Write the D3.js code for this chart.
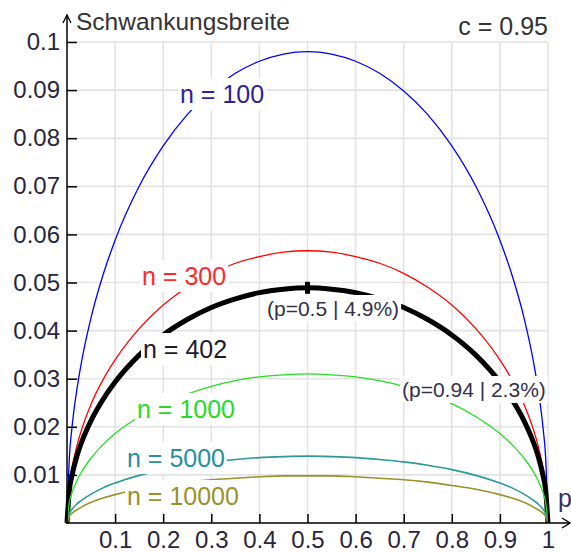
<!DOCTYPE html>
<html>
<head>
<meta charset="utf-8">
<script src="https://cdn.jsdelivr.net/npm/d3@7"></script>
<style>
  html, body { margin: 0; padding: 0; background: #fff; }
  svg { display: block; font-family: "Liberation Sans", Arial, sans-serif; }
</style>
</head>
<body>
<svg id="chart" width="571" height="555"></svg>
<script>
// ---- data ----
const pValues = [0,0.005,0.01,0.02,0.03,0.05,0.075,0.1,0.15,0.2,0.25,0.3,0.35,0.4,0.45,0.5,0.55,0.6,0.65,0.7,0.75,0.8,0.85,0.9,0.925,0.95,0.97,0.98,0.99,0.995,1];
const n100   = [0,0.0138,0.0195,0.0274,0.0334,0.0427,0.0516,0.0588,0.0700,0.0784,0.0849,0.0898,0.0935,0.0960,0.0975,0.0980,0.0975,0.0960,0.0935,0.0898,0.0849,0.0784,0.0700,0.0588,0.0516,0.0427,0.0334,0.0274,0.0195,0.0138,0];
const n300   = [0,0.0080,0.0113,0.0158,0.0193,0.0247,0.0298,0.0339,0.0404,0.0453,0.0490,0.0519,0.0540,0.0554,0.0563,0.0566,0.0563,0.0554,0.0540,0.0519,0.0490,0.0453,0.0404,0.0339,0.0298,0.0247,0.0193,0.0158,0.0113,0.0080,0];
const n402   = [0,0.0069,0.0097,0.0137,0.0167,0.0213,0.0257,0.0293,0.0349,0.0391,0.0423,0.0448,0.0466,0.0479,0.0486,0.0489,0.0486,0.0479,0.0466,0.0448,0.0423,0.0391,0.0349,0.0293,0.0257,0.0213,0.0167,0.0137,0.0097,0.0069,0];
const n1000  = [0,0.0044,0.0062,0.0087,0.0106,0.0135,0.0163,0.0186,0.0221,0.0248,0.0268,0.0284,0.0296,0.0304,0.0308,0.0310,0.0308,0.0304,0.0296,0.0284,0.0268,0.0248,0.0221,0.0186,0.0163,0.0135,0.0106,0.0087,0.0062,0.0044,0];
const n5000  = [0,0.0020,0.0028,0.0039,0.0047,0.0060,0.0073,0.0083,0.0099,0.0111,0.0120,0.0127,0.0132,0.0136,0.0138,0.0139,0.0138,0.0136,0.0132,0.0127,0.0120,0.0111,0.0099,0.0083,0.0073,0.0060,0.0047,0.0039,0.0028,0.0020,0];
const n10000 = [0,0.0014,0.0020,0.0027,0.0033,0.0043,0.0052,0.0059,0.0070,0.0078,0.0085,0.0090,0.0093,0.0096,0.0098,0.0098,0.0098,0.0096,0.0093,0.0090,0.0085,0.0078,0.0070,0.0059,0.0052,0.0043,0.0033,0.0027,0.0020,0.0014,0];

const seriesNames  = ["n = 100","n = 300","n = 402","n = 1000","n = 5000","n = 10000"];
const seriesValues = [n100, n300, n402, n1000, n5000, n10000];

const xTicks = [0.1,0.2,0.3,0.4,0.5,0.6,0.7,0.8,0.9,1];
const xTickLabels = ["0.1","0.2","0.3","0.4","0.5","0.6","0.7","0.8","0.9","1"];
const yTicks = [0.01,0.02,0.03,0.04,0.05,0.06,0.07,0.08,0.09,0.1];
const yTickLabels = ["0.01","0.02","0.03","0.04","0.05","0.06","0.07","0.08","0.09","0.1"];

const markedPoints = [{p: 0.5, v: 0.0489, text: "(p=0.5 | 4.9%)"}, {p: 0.94, v: 0.0232, text: "(p=0.94 | 2.3%)"}];
const yTitle = "Schwankungsbreite";
const xTitle = "p";
const cText = "c = 0.95";

// ---- styles ----
const curveColors = ["#0000ff","#ff0000","#000000","#22e022","#2a9a9a","#9a922a"];
const labelColors = ["#2d1f99","#ff2a2a","#1e1a2e","#22dd22","#2a8e9e","#9a922a"];
const curveWidths = [1.3,1.3,5,1.3,1.6,1.6];
const labelPos = [[180,103],[142,285],[143,358],[137,418],[127,467],[127,505]];
const notePos = [[267,316],[402,397]];
const textColor = "#2a2540";

const svg = d3.select("#chart");
const x = d3.scaleLinear().domain([0,1]).range([67,548]);
const y = d3.scaleLinear().domain([0,0.1]).range([523,42]);

// grid
const grid = svg.append("g").attr("stroke","#e3e3e3").attr("stroke-width",1.6);
grid.selectAll("line.v").data(xTicks).join("line")
  .attr("x1",d=>x(d)).attr("x2",d=>x(d)).attr("y1",y(0)).attr("y2",y(0.1));
grid.selectAll("line.h").data(yTicks).join("line")
  .attr("y1",d=>y(d)).attr("y2",d=>y(d)).attr("x1",x(0)).attr("x2",x(1));

// curves
const line = d3.line().x((d,i)=>x(pValues[i])).y(d=>y(d)).curve(d3.curveMonotoneX);
svg.append("g").selectAll("path").data(seriesValues).join("path")
  .attr("d", d=>line(d))
  .attr("fill","none")
  .attr("stroke",(d,i)=>curveColors[i])
  .attr("stroke-width",(d,i)=>curveWidths[i])
  .attr("stroke-linejoin","round");

// marker at p=0.5
svg.append("rect")
  .attr("x", x(markedPoints[0].p)-2.5).attr("y", y(markedPoints[0].v)-6)
  .attr("width",5).attr("height",12).attr("fill","#000");

// labels with white backgrounds
function addLabel(txt, px, py, color, size){
  const g = svg.append("g");
  const r = g.append("rect").attr("fill","#fff");
  const t = g.append("text").attr("x",px).attr("y",py)
    .attr("font-size",size).attr("fill",color).text(txt);
  const b = t.node().getBBox();
  r.attr("x",b.x-2).attr("y",b.y-2).attr("width",b.width+4).attr("height",b.height+4);
}
seriesNames.forEach((nm,i)=>addLabel(nm, labelPos[i][0], labelPos[i][1], labelColors[i], 25));
markedPoints.forEach((m,i)=>addLabel(m.text, notePos[i][0], notePos[i][1], "#33304a", 21));

// axes
const xAxis = d3.axisBottom(x).tickValues(xTicks).tickFormat((d,i)=>xTickLabels[i])
  .tickSizeInner(-9).tickSizeOuter(0).tickPadding(8);
const yAxis = d3.axisLeft(y).tickValues(yTicks).tickFormat((d,i)=>yTickLabels[i])
  .tickSizeInner(-10).tickSizeOuter(0).tickPadding(7);

const gx = svg.append("g").attr("transform",`translate(0,${y(0)})`).call(xAxis);
const gy = svg.append("g").attr("transform",`translate(${x(0)},0)`).call(yAxis);
[gx,gy].forEach(g=>{
  g.select(".domain").remove();
  g.selectAll(".tick line").attr("stroke","#000").attr("stroke-width",1.5);
  g.selectAll(".tick text").attr("font-size",24).attr("fill",textColor)
    .attr("font-family",'"Liberation Sans", Arial, sans-serif');
});

// axis lines with arrows
svg.append("line").attr("x1",x(0)).attr("x2",x(0)).attr("y1",y(0)+1).attr("y2",15)
  .attr("stroke","#000").attr("stroke-width",1.5);
svg.append("path").attr("d",`M${x(0)-4},23 L${x(0)},15 L${x(0)+4},23`)
  .attr("fill","none").attr("stroke","#000").attr("stroke-width",1.3);
svg.append("line").attr("x1",x(0)-1).attr("x2",570).attr("y1",y(0)).attr("y2",y(0))
  .attr("stroke","#000").attr("stroke-width",1.5);
svg.append("path").attr("d",`M562,${y(0)-5} L570,${y(0)} L562,${y(0)+5}`)
  .attr("fill","none").attr("stroke","#000").attr("stroke-width",1.3);

// titles
svg.append("text").attr("x",76).attr("y",30).attr("font-size",24.5).attr("fill","#333").text(yTitle);
svg.append("text").attr("x",548).attr("y",35).attr("text-anchor","end").attr("font-size",25).attr("fill","#333").text(cText);
svg.append("text").attr("x",558).attr("y",507).attr("font-size",25).attr("fill","#3a2e6a").text(xTitle);
</script>
</body>
</html>
